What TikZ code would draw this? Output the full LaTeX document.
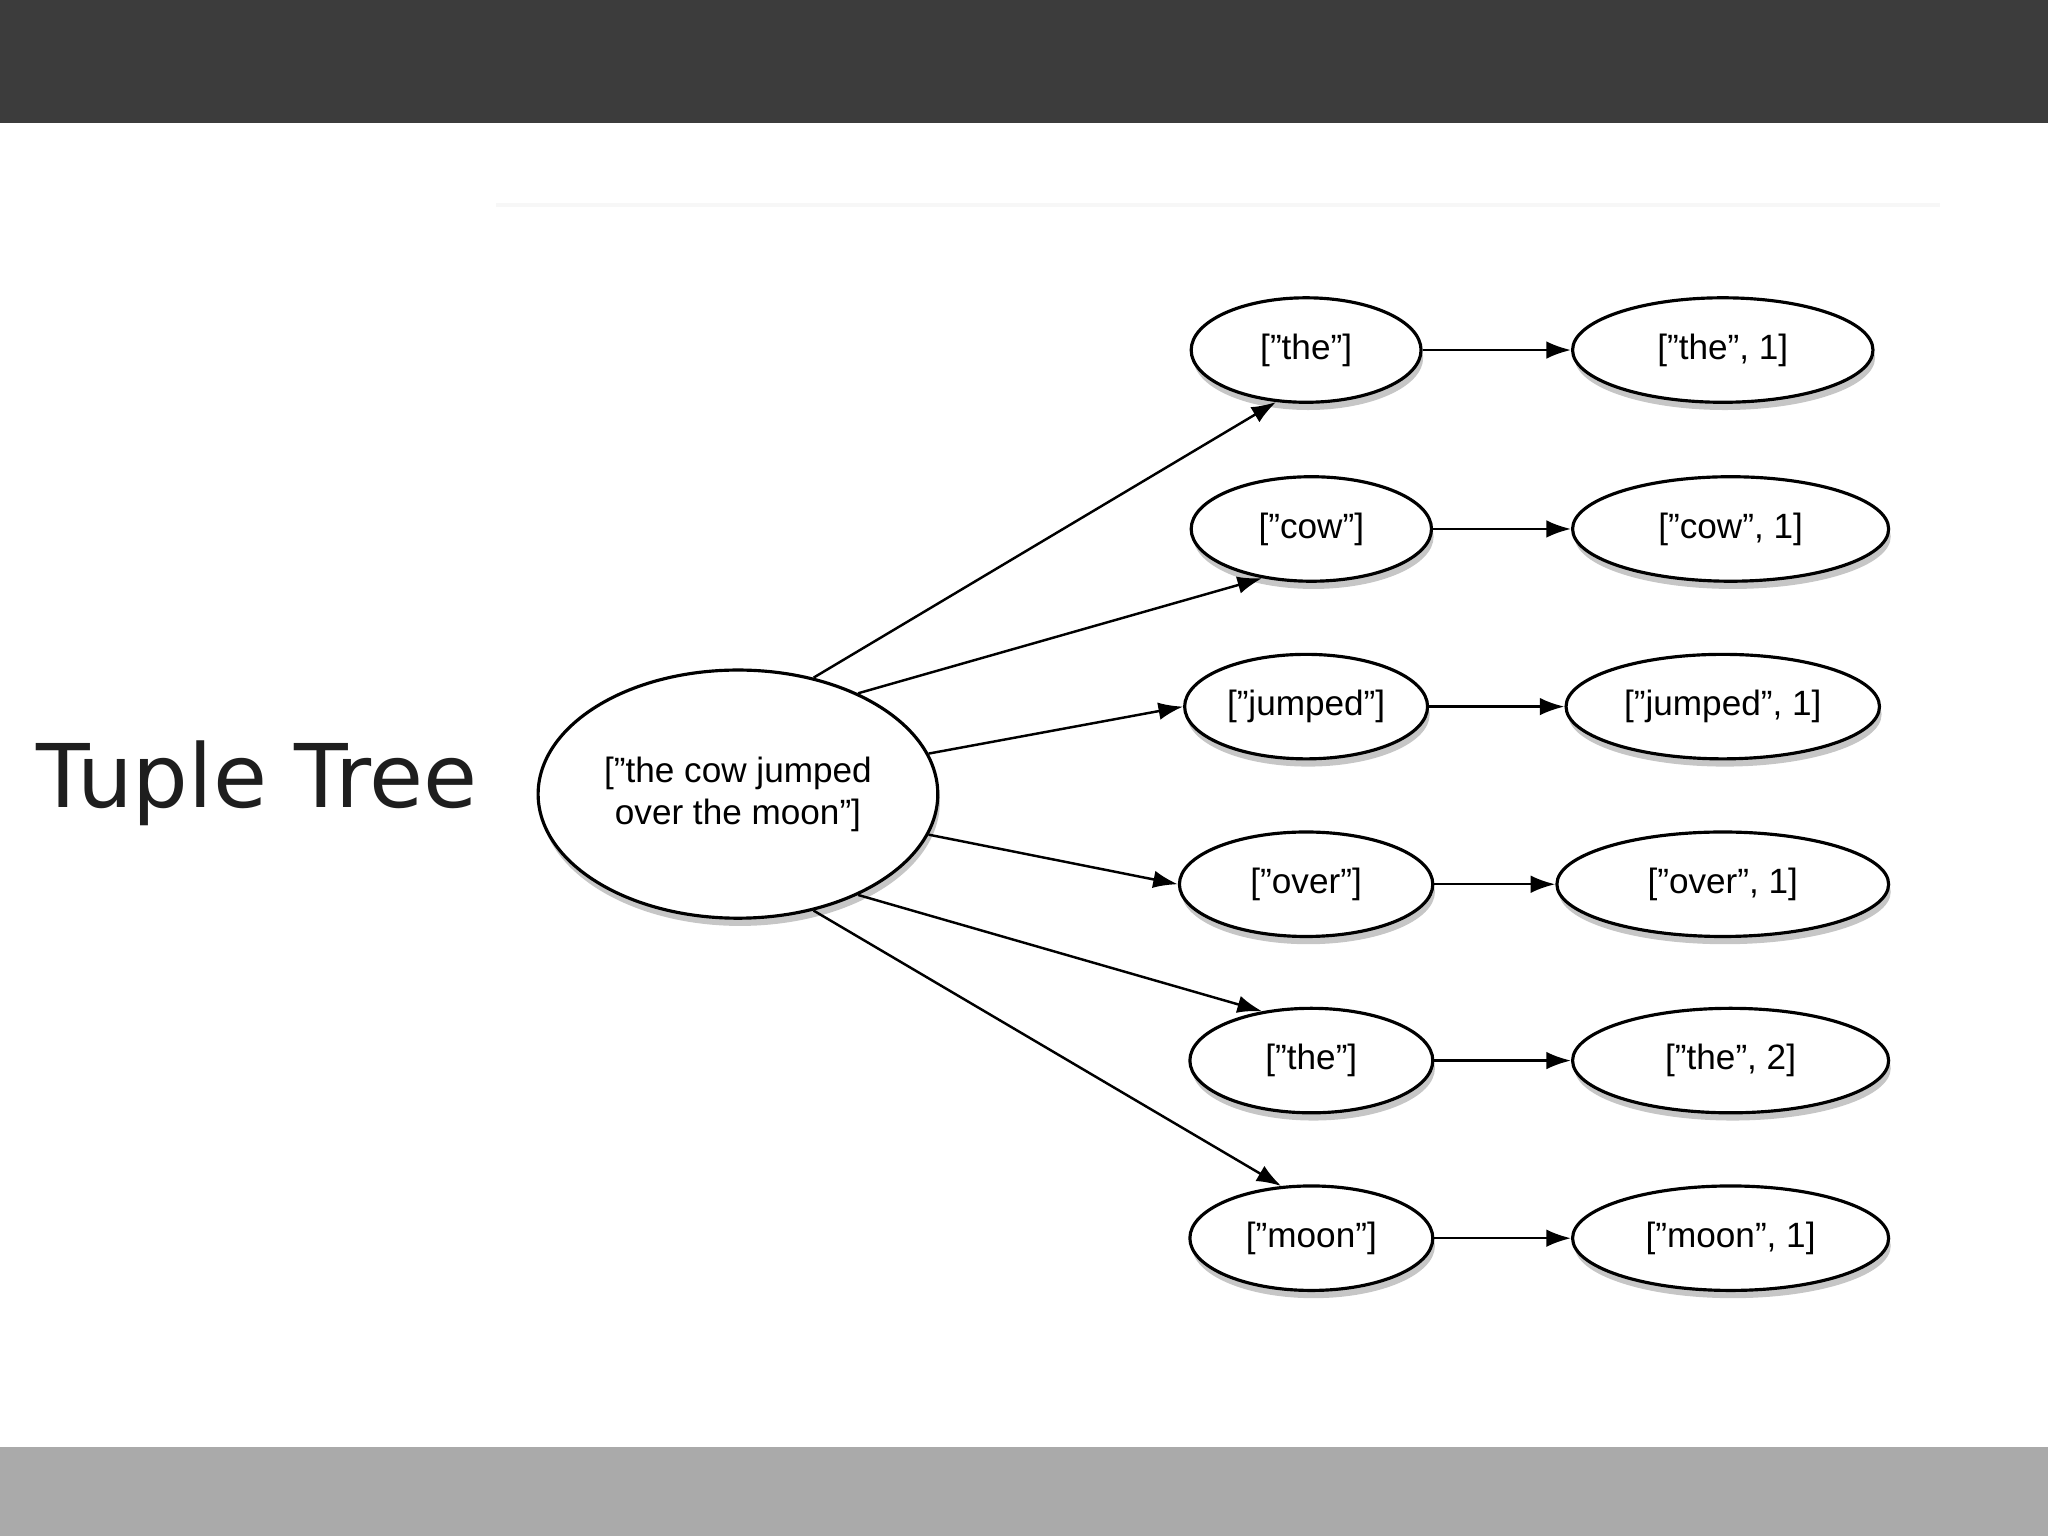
\documentclass[tikz,border=0pt]{standalone}
\usepackage{fontspec}
\setmainfont{Liberation Sans}
\newfontfamily\titlefont{DejaVu Sans}
\usetikzlibrary{shapes.geometric,shadows,arrows.meta}
\begin{document}
\begin{tikzpicture}[x=0.013061cm,y=-0.013061cm,
  ell/.style 2 args={ellipse,draw=black,line width=0.9pt,fill=white,inner sep=0pt,
    minimum width={#1*0.013061cm},minimum height={#2*0.013061cm},
    drop shadow={shadow xshift=0.6pt,shadow yshift=-2.2pt,opacity=0.45},
    font=\fontsize{10}{12}\selectfont,align=center},
  arr/.style={-{Latex[length=7pt,width=5pt]},line width=0.7pt}]
\useasboundingbox (0,0) rectangle (1568,1176);
\fill[fill={rgb,255:red,60;green,60;blue,60}] (0,0) rectangle (1568,94);
\fill[fill={rgb,255:red,170;green,170;blue,170}] (0,1108) rectangle (1568,1176);
\draw[gray!6,line width=1pt] (380,157) -- (1485,157);
\node[font=\titlefont\fontsize{25}{30}\selectfont,text={rgb,255:red,30;green,30;blue,30}] (title) at (197,600) {Tuple Tree};
\node[ell={306}{190}] (root) at (565,608) {["the cow jumped\\over the moon"]};
\node[ell={176}{80}] (m1) at (1000,268) {["the"]};
\node[ell={184}{80}] (m2) at (1004,405) {["cow"]};
\node[ell={186}{80}] (m3) at (1000,541) {["jumped"]};
\node[ell={194}{80}] (m4) at (1000,677) {["over"]};
\node[ell={186}{80}] (m5) at (1004,812) {["the"]};
\node[ell={186}{80}] (m6) at (1004,948) {["moon"]};
\node[ell={230}{80}] (r1) at (1319,268) {["the", 1]};
\node[ell={242}{80}] (r2) at (1325,405) {["cow", 1]};
\node[ell={240}{80}] (r3) at (1319,541) {["jumped", 1]};
\node[ell={254}{80}] (r4) at (1319,677) {["over", 1]};
\node[ell={242}{80}] (r5) at (1325,812) {["the", 2]};
\node[ell={242}{80}] (r6) at (1325,948) {["moon", 1]};
\draw[arr] (root.57) -- (m1.-120);
\draw[arr] (root.40) -- (m2.-135);
\draw[arr] (root.12) -- (m3.west);
\draw[arr] (root.-12) -- (m4.west);
\draw[arr] (root.-40) -- (m5.135);
\draw[arr] (root.-57) -- (m6.120);
\foreach \i in {1,...,6} \draw[arr] (m\i) -- (r\i);
\end{tikzpicture}
\end{document}
